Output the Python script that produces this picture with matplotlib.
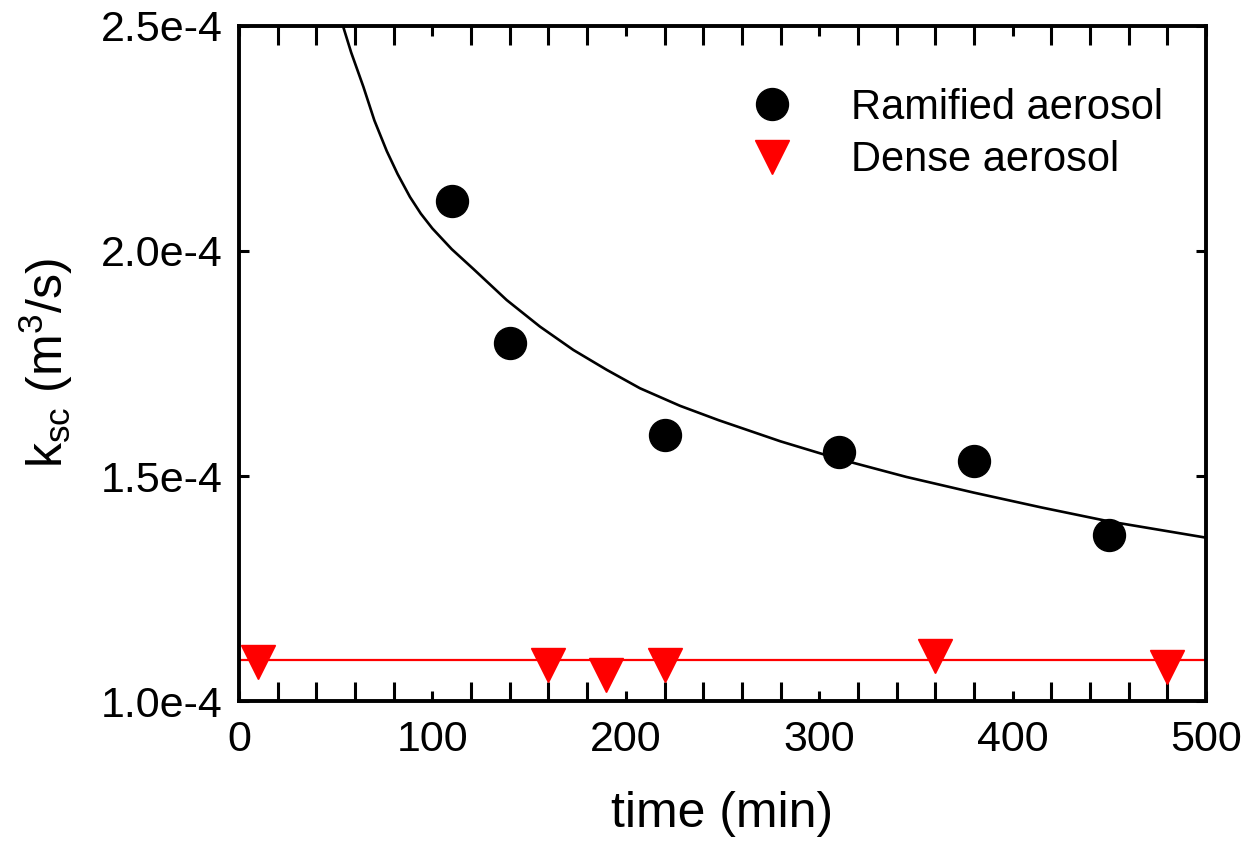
import matplotlib
matplotlib.use('Agg')
import matplotlib.pyplot as plt
from matplotlib.ticker import MultipleLocator, FuncFormatter

plt.rcParams['font.family'] = ['Liberation Sans', 'DejaVu Sans']
plt.rcParams['mathtext.default'] = 'regular'

# Ramified aerosol (black circles)
ram_t = [110, 140, 220, 310, 380, 450]
ram_k = [2.112e-4, 1.795e-4, 1.591e-4, 1.553e-4, 1.534e-4, 1.369e-4]

# Dense aerosol (red triangles)
den_t = [10, 160, 190, 220, 360, 480]
den_k = [1.087e-4, 1.081e-4, 1.058e-4, 1.081e-4, 1.099e-4, 1.075e-4]

# fitted curve for ramified aerosol
fit_t = [53.9, 58.0, 64.3, 70.0, 76.4, 82.0, 88.4, 94.0, 100.0, 110.0, 121.2,
         138.4, 155.6, 172.9, 190.1, 207.3, 228, 248, 280, 310, 345, 380,
         415, 450, 500]
fit_k = [2.498e-4, 2.441e-4, 2.365e-4, 2.290e-4, 2.222e-4, 2.171e-4, 2.120e-4,
         2.083e-4, 2.050e-4, 2.004e-4, 1.960e-4, 1.891e-4, 1.832e-4, 1.780e-4,
         1.736e-4, 1.695e-4, 1.656e-4, 1.624e-4, 1.577e-4, 1.538e-4, 1.498e-4,
         1.463e-4, 1.430e-4, 1.399e-4, 1.363e-4]

# mean level of the dense aerosol
den_mean = 1.092e-4

fig = plt.figure(figsize=(12.52, 8.49), dpi=100)
ax = fig.add_axes([0.1909, 0.1743, 0.9633 - 0.1909, 0.9694 - 0.1743])

ax.plot(fit_t, fit_k, color='black', lw=1.9, zorder=2)
ax.plot([0, 500], [den_mean, den_mean], color='red', lw=1.6, zorder=2)
ax.plot(ram_t, ram_k, 'o', color='black', ms=23, ls='none',
        label='Ramified aerosol', zorder=3)
ax.plot(den_t, den_k, 'v', color='red', ms=24, ls='none',
        label='Dense aerosol', zorder=3)

ax.set_xlim(0, 500)
ax.set_ylim(1.0e-4, 2.5e-4)

ax.xaxis.set_major_locator(MultipleLocator(100))
ax.xaxis.set_minor_locator(MultipleLocator(20))
ax.yaxis.set_major_locator(MultipleLocator(0.5e-4))
ax.yaxis.set_major_formatter(FuncFormatter(lambda v, p: '%.1fe-4' % (v * 1e4)))

ax.tick_params(which='both', direction='in', top=True, right=True, width=2.2,
               labelsize=31)
ax.tick_params(axis='x', which='major', length=7, pad=14)
ax.tick_params(axis='x', which='minor', length=14)
ax.tick_params(axis='y', which='major', length=7, pad=12)
for s in ax.spines.values():
    s.set_linewidth(2.8)

ax.set_xlabel('time (min)', fontsize=36, labelpad=22)
ax.set_ylabel('k$_{sc}$ (m$^{3}$/s)', fontsize=36, labelpad=18)

ax.legend(loc='upper right', frameon=False, fontsize=30, handletextpad=0.9,
          borderaxespad=0.4, labelspacing=0.3, bbox_to_anchor=(0.99, 0.958))

fig.savefig('out.png', dpi=100)
